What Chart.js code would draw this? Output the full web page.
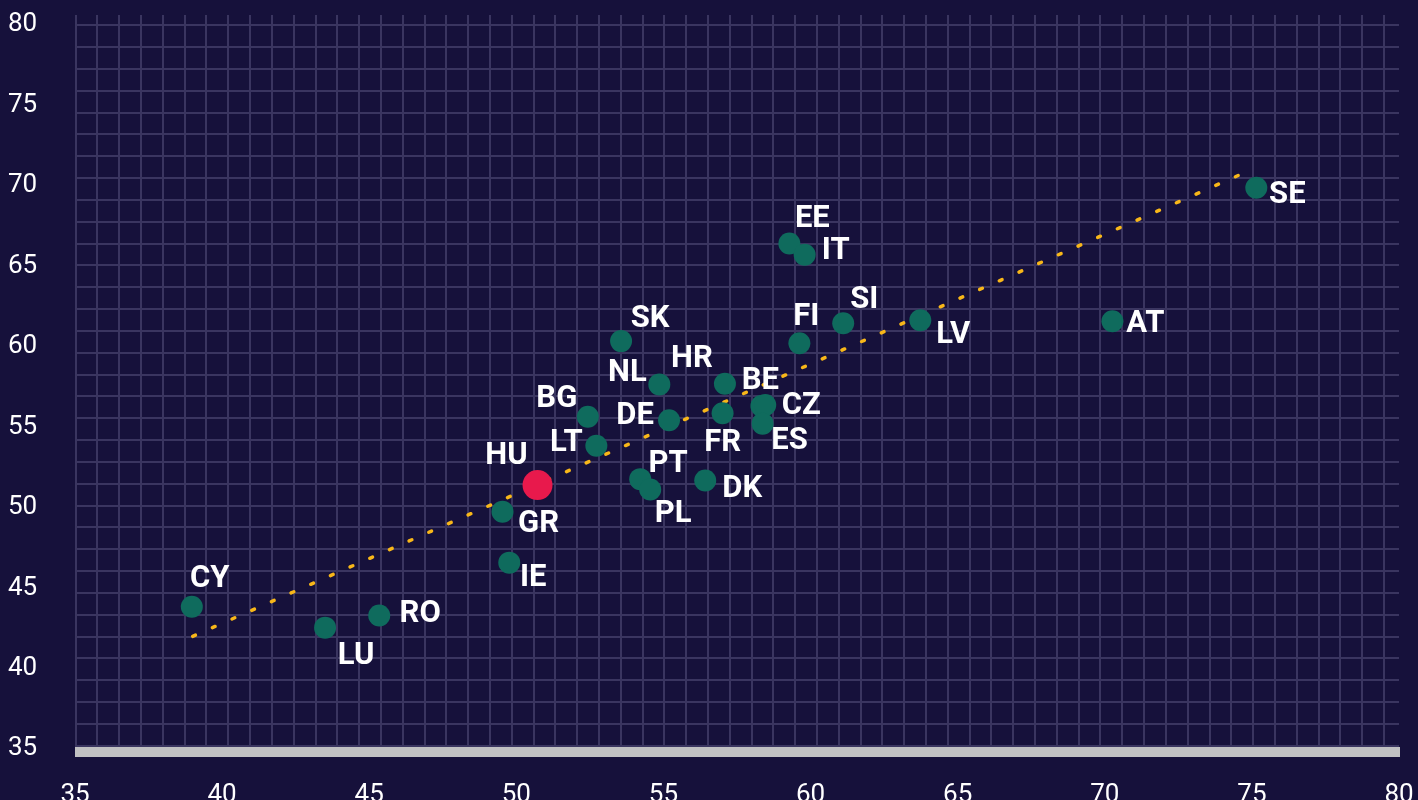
<!DOCTYPE html>
<html>
<head>
<meta charset="utf-8">
<script src="https://cdn.jsdelivr.net/npm/chart.js@4/dist/chart.umd.min.js"></script>
<style>
    html, body { margin: 0; padding: 0; background: #16113b; }
    #wrap { width: 1418px; height: 800px; }
</style>
</head>
<body>
<div id="wrap"><canvas id="scatterChart"></canvas></div>
<script>
// Data
const countries = ['SE', 'AT', 'LV', 'SI', 'FI', 'EE', 'IT', 'SK', 'NL', 'HR', 'BE', 'CZ', 'ES', 'FR',
    'DE', 'BG', 'LT', 'HU', 'GR', 'PT', 'PL', 'DK', 'IE', 'CY', 'LU', 'RO'];
const xValues = [75.15, 70.26, 63.73, 61.11, 59.62, 59.28, 59.80, 53.56, 54.86, 57.09, 58.33, 58.46, 58.37, 57.01,
    55.19, 52.43, 52.72, 50.72, 49.53, 54.21, 54.55, 56.42, 49.76, 38.97, 43.50, 45.34];
const yValues = [69.88, 61.59, 61.65, 61.46, 60.22, 66.42, 65.72, 60.35, 57.66, 57.70, 56.32, 56.38, 55.22, 55.86,
    55.43, 55.65, 53.84, 51.40, 49.75, 51.77, 51.13, 51.69, 46.58, 43.84, 42.54, 43.30];
const trendX = [39.0, 75.1];
const trendY = [42.0, 71.1];
const xTicks = [35, 40, 45, 50, 55, 60, 65, 70, 75, 80];
const yTicks = [35, 40, 45, 50, 55, 60, 65, 70, 75, 80];
const highlight = 'HU';

// label placement around each dot (pixels from the dot centre)
const labelOffset = {
    SE: [31, 6], AT: [33, 2], LV: [33, 14], SI: [21, -24], FI: [7, -27], EE: [23, -25], IT: [31, -4],
    SK: [29, -23], NL: [-32, -12], HR: [-33, -25], BE: [-1, -26], CZ: [36, 0], ES: [27, 17], FR: [0, 29],
    DE: [-34, -5], BG: [-31, -18], LT: [-30, -4], HU: [-31, -30], GR: [36, 12], PT: [28, -16],
    PL: [23, 24], DK: [37, 8], IE: [24, 15], CY: [18, -28], LU: [31, 28], RO: [41, -2]
};

const teal = '#0f6b5d';
const red = '#e8194c';
const gridColor = '#3a3560';

const points = countries.map((c, i) => ({ x: xValues[i], y: yValues[i], code: c }));
const trend = trendX.map((x, i) => ({ x: x, y: trendY[i] }));

// background grid is a square lattice, not tied to the value ticks
function latticeTicks(count, start) {
    return function(scale) {
        const t = [];
        for (let k = 0; k < count; k++) t.push({ value: start + k });
        scale.ticks = t;
    };
}

// grey base bar under the plot
const baseBar = {
    id: 'baseBar',
    beforeDatasetsDraw(chart) {
        const a = chart.chartArea;
        const ctx = chart.ctx;
        ctx.save();
        ctx.fillStyle = '#c1c1c3';
        ctx.fillRect(a.left, a.bottom - 5, a.right - a.left + 1, 10);
        ctx.restore();
    }
};

const labelPlugin = {
    id: 'codeLabels',
    afterDatasetsDraw(chart) {
        const ctx = chart.ctx;
        const meta = chart.getDatasetMeta(1);
        ctx.save();
        ctx.fillStyle = '#ffffff';
        ctx.font = 'bold 31px Roboto';
        ctx.textAlign = 'center';
        ctx.textBaseline = 'middle';
        meta.data.forEach((el, i) => {
            const code = points[i].code;
            const off = labelOffset[code] || [25, 0];
            ctx.fillText(code, el.x + off[0], el.y + off[1] + 1);
        });
        ctx.restore();
    }
};

const ctx = document.getElementById('scatterChart').getContext('2d');
const chart = new Chart(ctx, {
    type: 'scatter',
    data: {
        datasets: [{
            type: 'line',
            data: trend,
            borderColor: '#f8b719',
            borderWidth: 3.5,
            borderDash: [3, 18.5],
            borderCapStyle: 'round',
            pointRadius: 0,
            fill: false,
            order: 1
        }, {
            data: points,
            backgroundColor: points.map(p => p.code === highlight ? red : teal),
            pointRadius: points.map(p => p.code === highlight ? 15 : 11),
            pointHoverRadius: points.map(p => p.code === highlight ? 15 : 11),
            borderWidth: 0,
            order: 0
        }]
    },
    options: {
        responsive: true,
        maintainAspectRatio: false,
        animation: false,
        events: [],
        layout: { padding: { left: 8, right: 19, top: 13, bottom: 0 } },
        plugins: {
            legend: { display: false },
            tooltip: { enabled: false }
        },
        scales: {
            x: {
                type: 'linear',
                position: 'bottom',
                min: 35,
                max: 80,
                afterBuildTicks: s => { s.ticks = xTicks.map(v => ({ value: v })); },
                afterFit: s => { s.height = 48; s.paddingLeft = 0; s.paddingRight = 0; },
                grid: { display: false },
                border: { display: false },
                ticks: {
                    color: '#ffffff',
                    padding: 22,
                    maxRotation: 0,
                    autoSkip: false,
                    font: { family: 'Roboto', size: 26, lineHeight: 1 }
                }
            },
            y: {
                type: 'linear',
                position: 'left',
                min: 34.81,
                max: 80.62,
                afterBuildTicks: s => { s.ticks = yTicks.map(v => ({ value: v })); },
                afterFit: s => { s.width = 67; s.paddingTop = 0; s.paddingBottom = 0; },
                grid: { display: false },
                border: { display: false },
                ticks: {
                    color: '#ffffff',
                    crossAlign: 'far',
                    autoSkip: false,
                    font: { family: 'Roboto', size: 26, lineHeight: 1 }
                }
            },
            gx: {
                type: 'linear',
                position: 'bottom',
                min: 0,
                max: 60.72,
                afterBuildTicks: latticeTicks(61, 0.03),
                afterFit: s => { s.height = 0; s.paddingLeft = 0; s.paddingRight = 0; },
                grid: { color: gridColor, lineWidth: 2, drawTicks: false },
                border: { display: false },
                ticks: { display: false }
            },
            gy: {
                type: 'linear',
                position: 'left',
                reverse: true,
                min: 0,
                max: 33.76,
                afterBuildTicks: latticeTicks(34, 0.47),
                afterFit: s => { s.width = 0; s.paddingTop = 0; s.paddingBottom = 0; },
                grid: { color: gridColor, lineWidth: 2, drawTicks: false },
                border: { display: false },
                ticks: { display: false }
            }
        }
    },
    plugins: [baseBar, labelPlugin]
});
</script>
</body>
</html>
